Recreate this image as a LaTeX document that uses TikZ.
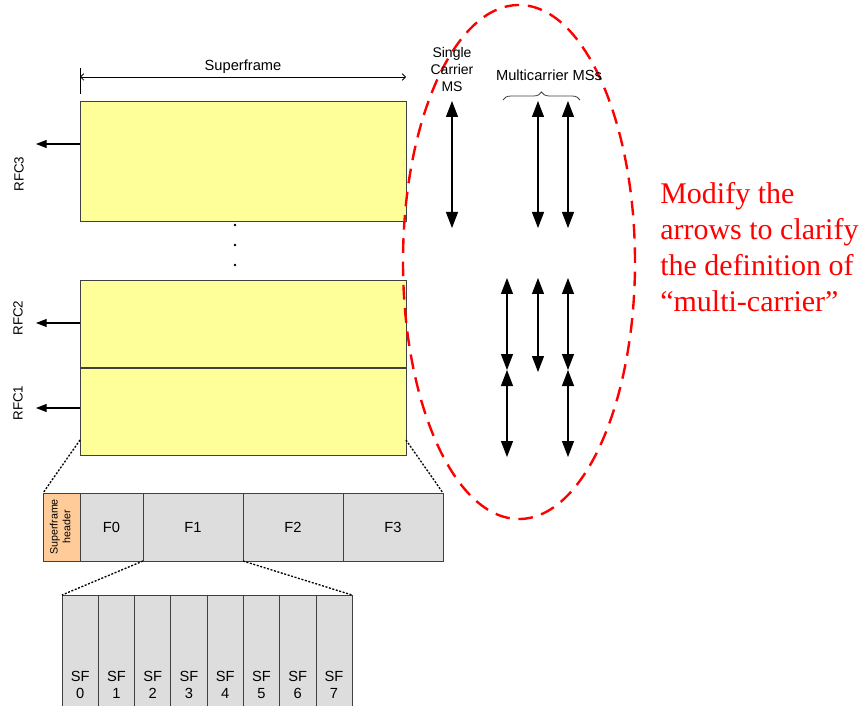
\documentclass[tikz,border=0pt]{standalone}
\usepackage{fontspec}
\setmainfont{Liberation Sans}
\newfontfamily\remarkfont{Liberation Serif}
\usetikzlibrary{shapes, positioning, arrows.meta, decorations.pathreplacing}
\definecolor{carrieryellow}{HTML}{FFFF99}
\definecolor{framegray}{HTML}{DDDDDD}
\definecolor{headerorange}{HTML}{FFCC99}
\definecolor{edgegray}{HTML}{404040}
\tikzset{
  carrier/.style={
    rectangle,
    draw=edgegray, fill=carrieryellow,
    minimum width=244.5pt,
    outer sep=0pt, inner sep=0pt
  },
  framebox/.style={
    rectangle,
    draw=edgegray, fill=framegray,
    minimum height=51pt,
    outer sep=0pt, inner sep=0pt,
    font=\fontsize{11}{13}\selectfont
  },
  hdrbox/.style={
    framebox,
    fill=headerorange,
    minimum width=27.75pt,
    font=\fontsize{8}{9.5}\selectfont
  },
  subframe/.style={
    rectangle,
    draw=edgegray, fill=framegray,
    minimum width=27.19pt,
    minimum height=135pt,
    outer sep=0pt, inner sep=0pt,
    align=center,
    font=\fontsize{11}{12.5}\selectfont
  },
  rfclabel/.style={
    rotate=90,
    font=\fontsize{10}{12}\selectfont
  },
  mslabel/.style={
    align=center,
    inner sep=0pt,
    font=\fontsize{10.5}{12.75}\selectfont
  },
  remark/.style={
    align=left,
    inner sep=0pt,
    text=red,
    font=\remarkfont\fontsize{22.5}{27}\selectfont
  },
  ring/.style={
    ellipse,
    draw=red,
    line width=1.8pt,
    dash pattern=on 11pt off 6.5pt,
    minimum width=174pt,
    minimum height=385.5pt
  },
  arrow/.style={
    draw=black,
    line width=0.8pt,
    <->,
    >={Triangle[length=12pt,width=9pt]}
  },
  rfcarrow/.style={
    draw=black,
    line width=0.8pt,
    ->,
    >={Triangle[length=8pt,width=6pt]}
  },
  dimline/.style={
    draw=black,
    line width=0.6pt,
    <->,
    >={Straight Barb[length=2.5pt,width=5pt]}
  },
  zoomline/.style={
    draw=black,
    line width=1pt,
    dash pattern=on 1.5pt off 1.2pt
  }
}

\begin{document}
\begin{tikzpicture}[x=0.75pt, y=-0.75pt]
\useasboundingbox (0,0) rectangle (861,706);
% nodes
\node[carrier, minimum height=90pt, anchor=north west] (rfc3) at (80,101) {};
\node[carrier, minimum height=65.25pt, below = 44.25pt of rfc3] (rfc2) {};
\node[carrier, minimum height=65.25pt, below = 0.75pt of rfc2] (rfc1) {};

\node[rfclabel] (l3) at (19,174) {RFC3};
\node[rfclabel] (l2) at (18,318) {RFC2};
\node[rfclabel] (l1) at (18,403) {RFC1};

\node[hdrbox, anchor=north west] (hdr) at (43,493)
  {\rotatebox{90}{\begin{tabular}{@{}c@{}}Superframe\\header\end{tabular}}};
\node[framebox, minimum width=47.25pt, right = 0pt of hdr] (f0) {F0};
\node[framebox, minimum width=75pt, right = 0pt of f0] (f1) {F1};
\node[framebox, minimum width=75pt, right = 0pt of f1] (f2) {F2};
\node[framebox, minimum width=75pt, right = 0pt of f2] (f3) {F3};

\node[subframe, anchor=north west] (sf0) at (62,595) {SF\\0};
\node[subframe, right = 0pt of sf0] (sf1) {SF\\1};
\node[subframe, right = 0pt of sf1] (sf2) {SF\\2};
\node[subframe, right = 0pt of sf2] (sf3) {SF\\3};
\node[subframe, right = 0pt of sf3] (sf4) {SF\\4};
\node[subframe, right = 0pt of sf4] (sf5) {SF\\5};
\node[subframe, right = 0pt of sf5] (sf6) {SF\\6};
\node[subframe, right = 0pt of sf6] (sf7) {SF\\7};

\node[ring] (hl) at (519,262) {};
\node[mslabel] (single) at (452,69) {Single\\Carrier\\MS};
\node[mslabel, font=\fontsize{11}{13}\selectfont] (multi) at (549,75) {Multicarrier MSs};
\node[remark, anchor=north west] (note) at (660,182.5)
  {Modify the\\arrows to clarify\\the definition of\\“multi-carrier”};

\foreach \y in {225,245,265}
  \fill (235,\y) circle (1pt);

% coordinates
\coordinate (out3) at (36,144);
\coordinate (out2) at (36,323);
\coordinate (out1) at (36,408);
\coordinate (sc top) at (452,101);
\coordinate (sc bot) at (452,228);
\coordinate (ma top) at (538,101);
\coordinate (ma bot) at (538,228);
\coordinate (mb top) at (568,101);
\coordinate (mb bot) at (568,228);
\coordinate (la top) at (507,278);
\coordinate (la mid) at (507,370);
\coordinate (la bot) at (507,457);
\coordinate (lb top) at (538,278);
\coordinate (lb bot) at (538,372);
\coordinate (lc top) at (568,278);
\coordinate (lc mid) at (568,370);
\coordinate (lc bot) at (568,457);
\coordinate (br left) at (503,100);
\coordinate (br right) at (580,100);

% edges
%% superframe
\draw [dimline] ([yshift=18pt]rfc3.north west) -- node[anchor=south, inner sep=2pt, font=\fontsize{11}{13}\selectfont]{Superframe} ([yshift=18pt]rfc3.north east);
\draw [line width=0.6pt] ([yshift=5.25pt]rfc3.north west) -- ([yshift=24.75pt]rfc3.north west);

%% carriers
\draw [rfcarrow] (rfc3.west |- out3) -- (out3);
\draw [rfcarrow] (rfc2.west |- out2) -- (out2);
\draw [rfcarrow] (rfc1.west |- out1) -- (out1);

%% zoom
\draw [zoomline] ([yshift=11.25pt]rfc1.south west) -- (hdr.north west);
\draw [zoomline] ([yshift=11.25pt]rfc1.south east) -- (f3.north east);
\draw [zoomline] (f1.south west) -- (sf0.north west);
\draw [zoomline] (f1.south east) -- (sf7.north east);

%% MSs
\draw [arrow] (sc top) -- (sc bot);
\draw [arrow] (ma top) -- (ma bot);
\draw [arrow] (mb top) -- (mb bot);
\draw [arrow] (la top) -- (la mid);
\draw [arrow] (la mid) -- (la bot);
\draw [arrow] (lb top) -- (lb bot);
\draw [arrow] (lc top) -- (lc mid);
\draw [arrow] (lc mid) -- (lc bot);
\draw [decorate, decoration={brace, amplitude=6pt}, draw=edgegray, line width=0.6pt] (br left) -- (br right);

\end{tikzpicture}
\end{document}
